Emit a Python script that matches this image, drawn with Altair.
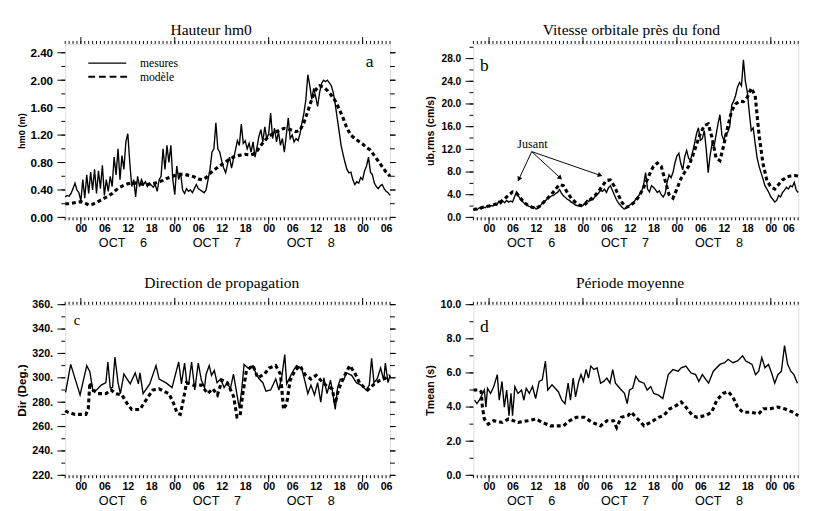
import math
import altair as alt
import pandas as pd

SANS = "Liberation Sans"
SERIF = "Liberation Serif"

# time axis: hours since 6 Oct 00:00
T_MIN, T_MAX = -4, 79
HALF = [k / 2 for k in range(2 * T_MIN, 2 * T_MAX + 1)]
HOURLY = list(range(T_MIN, T_MAX + 1))
LABEL_HOURS = list(range(0, T_MAX + 1, 6))
DAY_STARTS = [0, 24, 48, 72]

# ---------------- (a) Hauteur hm0 ----------------
hm0_mes = [
    0.30, 0.32, 0.31, 0.35, 0.42, 0.50, 0.40, 0.36,
    0.24, 0.55, 0.28, 0.62, 0.35, 0.66, 0.40, 0.70, 0.35, 0.68, 0.42, 0.76,
    0.32, 0.55, 0.38, 0.60, 0.45, 0.88, 0.62, 1.00, 0.55, 0.90, 0.70, 1.10,
    1.22, 0.80, 0.45, 0.55, 0.30, 0.60, 0.45, 0.55, 0.48, 0.52, 0.45, 0.50,
    0.47, 0.44, 0.48, 0.38, 0.55, 0.60, 1.00, 0.70, 1.05, 0.80, 1.05, 0.55,
    0.33, 0.75, 0.55, 0.65, 0.40, 0.35, 0.42, 0.38, 0.40, 0.36, 0.42, 0.48,
    0.42, 0.40, 0.38, 0.36, 0.40, 0.55, 0.70, 0.95, 1.00, 1.38, 1.00, 0.95,
    0.82, 0.72, 0.65, 0.78, 0.88, 0.72, 0.85, 0.98, 1.12, 1.05, 1.36, 1.08,
    1.12, 1.00, 1.08, 0.95, 1.10, 0.88, 1.02, 1.18, 1.28, 1.10, 1.32, 1.15,
    1.22, 1.52, 1.15, 1.30, 1.10, 1.25, 1.05, 1.15, 0.95, 1.20, 1.45, 1.15,
    1.20, 1.10, 1.15, 1.12, 1.22, 1.38, 1.52, 1.72, 2.08, 1.92, 1.72, 1.88,
    1.76, 1.62, 1.82, 1.95, 2.00, 1.98, 2.00, 1.96, 1.92, 1.82, 1.65, 1.45,
    1.25, 1.05, 0.92, 0.80, 0.70, 0.65, 0.66, 0.55, 0.48, 0.52, 0.50, 0.58,
    0.55, 0.68, 0.75, 0.88, 0.66, 0.62, 0.50, 0.45, 0.42, 0.46, 0.48, 0.42,
    0.38, 0.36, 0.32,
]
hm0_mod = [
    0.20, 0.20, 0.21, 0.22,
    0.23, 0.21, 0.18, 0.19, 0.22, 0.25,
    0.28, 0.31, 0.35, 0.40, 0.44, 0.47,
    0.49, 0.50, 0.50, 0.49, 0.48, 0.48,
    0.49, 0.50, 0.52, 0.54, 0.57, 0.59,
    0.61, 0.63, 0.63, 0.62, 0.61, 0.59,
    0.56, 0.55, 0.58, 0.64, 0.69, 0.73,
    0.77, 0.81, 0.85, 0.88, 0.90, 0.91,
    0.92, 0.91, 0.92, 0.97, 1.05, 1.12,
    1.18, 1.22, 1.25, 1.28, 1.30, 1.29,
    1.27, 1.25, 1.27, 1.38, 1.55, 1.72,
    1.86, 1.92, 1.90, 1.85, 1.78, 1.70,
    1.58, 1.45, 1.30, 1.20, 1.15, 1.11,
    1.07, 1.02, 0.98, 0.90, 0.82, 0.74,
    0.66, 0.60,
]

# ---------------- (b) Vitesse orbitale ----------------
ub_mes = [
    1.3, 1.6, 1.4, 1.7, 1.5, 1.8, 1.7, 2.0,
    1.9, 2.1, 2.0, 2.3, 2.2, 2.8, 2.4, 2.9, 2.6, 3.0, 2.7, 2.9,
    2.7, 3.6, 4.5, 3.8, 3.2, 2.8, 2.5, 2.3, 2.0, 1.9, 1.7, 1.8,
    1.5, 1.6, 2.0, 2.4, 2.8, 3.0, 3.4, 3.6, 3.8, 3.9, 4.2, 4.4,
    4.9, 4.3, 3.8, 3.5, 3.2, 3.0, 2.7, 2.5, 2.2, 2.1, 2.0, 1.9,
    2.1, 2.5, 3.0, 2.8, 3.3, 3.1, 3.6, 3.9, 4.3, 4.8, 4.6, 5.0,
    4.4, 5.2, 5.6, 4.8, 4.0, 3.2, 2.6, 2.2, 1.8, 1.5, 1.6, 1.9,
    2.2, 2.5, 2.7, 3.2, 3.6, 4.1, 4.6, 5.8, 7.9, 5.0, 4.5, 5.6,
    5.3, 4.9, 4.4, 4.7, 4.0, 3.6, 4.2, 6.2, 7.5, 7.0, 7.9, 9.6,
    10.8, 11.3, 9.5, 8.4, 10.7, 11.8, 10.4, 10.1, 11.5, 13.0, 14.7, 15.8,
    13.6, 13.9, 15.3, 12.0, 7.9, 11.0, 13.0, 12.5, 14.5, 16.5, 18.1, 14.5,
    13.6, 14.8, 15.0, 16.0, 19.8, 20.5, 21.5, 23.0, 23.8, 23.2, 27.8, 24.0,
    22.1, 18.5, 15.3, 15.8, 13.0, 10.5, 9.0, 7.9, 6.8, 5.6, 5.0, 4.4,
    3.6, 3.2, 2.7, 3.0, 3.9, 3.6, 4.4, 4.8, 5.3, 5.0, 5.6, 5.4,
    6.2, 4.8, 4.4,
]
ub_mod = [
    1.4, 1.5, 1.7, 1.9,
    2.0, 2.2, 2.4, 2.8, 3.3, 3.9,
    4.5, 4.3, 3.4, 2.6, 2.1, 1.8,
    1.6, 2.0, 2.7, 3.4, 4.1, 5.0,
    5.8, 5.6, 4.4, 3.4, 2.7, 2.2,
    2.0, 2.6, 3.2, 3.8, 4.6, 5.6,
    6.5, 6.6, 5.5, 4.0, 2.6, 1.8,
    2.0, 2.6, 3.4, 4.6, 6.0, 7.6,
    9.0, 9.6, 9.0, 6.5, 4.0, 3.4,
    5.0, 6.8, 8.0, 9.0, 10.8, 12.8,
    14.8, 16.2, 16.5, 14.0, 10.5, 10.0,
    12.8, 16.0, 18.8, 20.0, 20.5, 20.4,
    21.2, 22.8, 21.5, 14.5, 9.5, 6.5,
    5.4, 5.0, 5.8, 6.6, 7.1, 7.3,
    7.4, 7.3,
]

# ---------------- (c) Direction ----------------
dir_mes = [
    (-3.9, 288), (-2.6, 311), (-0.2, 286), (1.5, 310), (2.3, 305), (3.1, 289),
    (4.0, 290), (5.2, 294), (6.4, 296), (6.9, 313), (7.5, 292), (8.1, 292),
    (8.7, 317), (9.5, 296), (10.1, 287), (11.0, 303), (12.6, 295), (13.9, 304),
    (14.7, 295), (15.1, 304), (15.9, 287), (17.6, 295), (19.2, 310), (20.0, 299),
    (21.7, 296), (23.3, 292), (25.0, 313), (25.7, 295), (26.5, 312), (27.1, 295),
    (27.6, 296), (28.3, 313), (29.1, 290), (30.0, 312), (30.8, 298), (31.6, 292),
    (32.0, 303), (32.8, 310), (33.4, 302), (34.1, 306), (34.8, 296), (35.7, 299),
    (36.6, 292), (37.4, 296), (38.2, 291), (39.0, 303), (39.9, 286), (40.5, 275),
    (41.1, 290), (41.7, 311), (42.7, 308), (44.0, 310), (44.8, 303), (45.6, 299),
    (46.5, 296), (47.3, 289), (48.5, 290), (49.8, 299), (50.6, 290), (51.4, 302),
    (52.1, 319), (52.6, 295), (53.5, 301), (54.3, 306), (55.1, 310), (56.4, 308),
    (57.2, 298), (58.0, 287), (58.8, 294), (59.7, 286), (60.5, 296), (61.3, 280),
    (62.1, 300), (62.9, 287), (63.8, 298), (64.4, 287), (65.0, 274), (65.6, 292),
    (66.3, 299), (67.1, 298), (67.9, 304), (69.2, 302), (70.4, 296), (71.6, 294),
    (72.9, 290), (73.7, 294), (74.3, 316), (74.9, 296), (75.7, 299), (76.6, 308),
    (77.4, 298), (77.8, 312), (78.5, 296), (79.0, 302),
]
dir_mod = [
    (-4.0, 273), (-3.5, 272), (-2.5, 271), (-1.5, 270), (0.0, 270), (1.3, 270),
    (1.9, 275), (2.3, 296), (3.1, 290), (4.4, 287), (6.4, 287), (7.7, 290),
    (8.9, 287), (10.5, 286), (11.8, 279), (13.0, 274), (15.1, 274), (16.7, 282),
    (18.4, 290), (20.0, 291), (22.5, 287), (23.7, 279), (24.6, 271), (25.4, 270),
    (26.2, 282), (27.0, 296), (28.7, 294), (30.8, 294), (32.4, 287), (33.7, 291),
    (34.9, 286), (36.1, 298), (37.4, 296), (39.0, 285), (39.9, 268), (40.7, 269),
    (41.3, 285), (42.3, 306), (44.0, 310), (45.2, 300), (46.9, 303), (48.1, 308),
    (49.8, 310), (51.0, 303), (51.8, 274), (52.6, 279), (53.5, 298), (54.7, 306),
    (56.0, 310), (57.2, 303), (58.8, 299), (60.1, 302), (61.3, 298), (62.9, 293),
    (64.2, 291), (65.0, 279), (65.8, 290), (67.1, 300), (68.7, 310), (70.0, 304),
    (71.2, 296), (72.4, 292), (73.3, 290), (75.0, 295), (76.5, 298), (78.0, 300),
    (79.0, 302),
]

# ---------------- (d) Periode moyenne ----------------
tm_mes = [
    (-3.7, 4.4), (-3.1, 4.2), (-2.5, 4.4), (-1.2, 5.0), (-0.8, 4.0), (-0.4, 5.1),
    (0.4, 4.8), (1.2, 5.2), (2.1, 5.9), (2.6, 4.4), (3.3, 5.5), (3.9, 4.0),
    (4.5, 5.0), (5.1, 3.5), (5.6, 4.8), (6.0, 3.5), (6.6, 5.2), (7.4, 4.8),
    (8.3, 5.0), (8.9, 4.4), (9.5, 5.1), (10.3, 4.8), (11.1, 5.2), (11.9, 4.5),
    (12.8, 5.5), (13.6, 5.6), (14.4, 6.7), (15.0, 5.0), (16.1, 5.3), (16.9, 5.1),
    (17.7, 4.9), (18.6, 4.4), (19.4, 4.2), (20.2, 5.4), (20.8, 4.4), (21.5, 5.7),
    (22.1, 4.6), (22.9, 5.5), (23.5, 5.9), (24.1, 5.5), (24.8, 6.2), (25.4, 5.7),
    (26.0, 6.4), (26.8, 6.2), (27.6, 6.3), (28.5, 5.4), (29.3, 5.5), (30.1, 5.7),
    (30.9, 5.4), (31.6, 6.2), (32.3, 5.4), (33.4, 5.1), (34.6, 4.8), (35.3, 4.2),
    (35.9, 5.0), (36.7, 5.1), (37.5, 5.8), (38.4, 5.5), (39.6, 5.4), (40.4, 5.0),
    (41.3, 5.2), (42.1, 4.8), (43.3, 4.7), (44.4, 4.5), (45.0, 5.1), (45.8, 5.9),
    (46.2, 6.0), (47.0, 6.2), (48.3, 6.1), (49.1, 6.3), (50.3, 6.4), (51.6, 6.0),
    (52.8, 5.9), (53.6, 5.5), (54.5, 5.9), (56.1, 5.4), (57.3, 6.1), (59.0, 6.5),
    (60.2, 6.6), (61.1, 6.8), (62.3, 6.6), (63.5, 6.7), (64.8, 7.0), (65.6, 6.7),
    (66.4, 6.6), (67.2, 6.5), (68.1, 5.9), (68.9, 6.1), (69.7, 6.9), (70.5, 6.3),
    (71.4, 6.5), (72.2, 6.0), (73.0, 5.4), (73.8, 5.9), (74.7, 6.1), (75.5, 7.6),
    (76.3, 6.5), (77.1, 6.1), (77.9, 5.9), (78.8, 5.4),
]
tm_mod = [
    (-4.0, 5.0), (-2.5, 5.0), (-2.0, 4.9), (-1.7, 4.0), (-1.2, 3.3), (-0.2, 3.0),
    (1.2, 3.2), (3.3, 3.1), (5.0, 3.3), (7.4, 3.1), (9.9, 3.2), (12.0, 3.3),
    (13.6, 3.1), (15.7, 2.9), (19.0, 2.9), (20.6, 3.2), (22.3, 3.4), (24.3, 3.4),
    (26.4, 3.1), (28.5, 2.9), (30.1, 3.2), (31.8, 3.2), (32.6, 2.8), (33.8, 3.4),
    (35.5, 3.5), (36.3, 3.7), (38.0, 3.3), (39.6, 2.9), (41.3, 3.1), (43.3, 3.4),
    (44.6, 3.5), (46.2, 3.9), (47.9, 4.1), (49.1, 4.3), (50.3, 4.0), (52.0, 3.5),
    (53.2, 3.4), (55.3, 3.5), (56.9, 3.7), (58.2, 4.4), (59.8, 4.8), (61.1, 4.9),
    (62.3, 4.6), (63.5, 4.0), (64.8, 3.7), (66.8, 3.7), (68.9, 3.6), (70.1, 3.9),
    (71.8, 3.9), (73.8, 4.0), (75.5, 3.9), (77.6, 3.7), (79.0, 3.5),
]

# ---------------- annotations ----------------
day_t = [8, 16, 32, 40, 56, 64]
day_txt = ["OCT", "6", "OCT", "7", "OCT", "8"]

legend_txt = ["mesures", "modèle"]
legend_v = [2.25, 2.05]
legend_t0, legend_t1, legend_tt = 1.9, 11.6, 15.1

jusant_txt_pos = (11.1, 12.9)
jusant_from = (10.9, 11.6)
jusant_tips = [(7.4, 6.4), (18.6, 6.7), (28.9, 7.3)]

letters = {"a": (73.8, 2.26), "b": (-1.2, 26.7), "c": (-1.0, 347.3), "d": (-1.2, 8.7)}

# ---------------- helpers ----------------
W = 335
XS = alt.Scale(domain=[T_MIN, T_MAX], nice=False, zero=False)
XLAB = ("((((datum.value % 24) + 24) % 24) < 10 ? '0' : '') "
        "+ (((datum.value % 24) + 24) % 24)")


def df_grid(ts, vs):
    return pd.DataFrame({"t": ts, "v": vs})


def df_pairs(pairs):
    return pd.DataFrame({"t": [p[0] for p in pairs], "v": [p[1] for p in pairs]})


def xticks(ts, y0, y1):
    return alt.Chart(pd.DataFrame({"t": ts})).mark_rule(color="black", strokeWidth=1).encode(
        x=alt.X("t:Q", scale=XS, axis=None), y=alt.value(y0), y2=alt.value(y1))


def yticks(vs, ys, x0, x1):
    return alt.Chart(pd.DataFrame({"v": vs})).mark_rule(color="black", strokeWidth=1).encode(
        y=alt.Y("v:Q", scale=ys, axis=None), x=alt.value(x0), x2=alt.value(x1))


def panel(title, tdx, toff, mes_df, mod_df, ydom, ymajor, yminor, lab_expr,
          ytitle, ytitle_size, ylab_size, H, letter, letter_size, right_ticks,
          flush, extras=None):
    ys = alt.Scale(domain=ydom, nice=False, zero=False)
    left = alt.Axis(values=ymajor, labelExpr=lab_expr, labelOverlap=False, labelFlush=False,
                    ticks=False, tickSize=0, domain=False, grid=False,
                    labelFont=SANS, labelFontWeight="bold", labelFontSize=ylab_size,
                    labelColor="black", labelPadding=13,
                    titleX=-44.5, titleY=H / 2, titleAngle=270, titleAlign="center",
                    titleBaseline="middle", titleFont=SANS, titleFontWeight="bold",
                    titleFontSize=ytitle_size, titleColor="black")
    bottom = alt.Axis(values=LABEL_HOURS, labelExpr=XLAB, labelOverlap=False, labelFlush=flush,
                      labelBound=False, ticks=False, tickSize=0, domain=False, grid=False,
                      labelFont=SANS, labelFontWeight="bold", labelFontSize=11,
                      labelColor="black", labelPadding=6)

    mes = alt.Chart(mes_df).mark_line(color="black", strokeWidth=1.4).encode(
        x=alt.X("t:Q", scale=XS, axis=bottom, title=None),
        y=alt.Y("v:Q", scale=ys, axis=left, title=ytitle),
    )
    mod = alt.Chart(mod_df).mark_line(color="black", strokeWidth=3.2, strokeDash=[4, 3]).encode(
        x=alt.X("t:Q", scale=XS, axis=None),
        y=alt.Y("v:Q", scale=ys, axis=None),
    )
    days = alt.Chart(pd.DataFrame({"t": day_t, "lab": day_txt})).mark_text(
        font=SANS, fontSize=13, color="black", baseline="middle", align="center"
    ).encode(x=alt.X("t:Q", scale=XS, axis=None), y=alt.value(H + 27), text="lab:N")
    lt, lv = letters[letter]
    let = alt.Chart(pd.DataFrame({"t": [lt], "v": [lv], "lab": [letter]})).mark_text(
        font=SERIF, fontSize=letter_size, color="black", baseline="middle", align="center"
    ).encode(x=alt.X("t:Q", scale=XS, axis=None), y=alt.Y("v:Q", scale=ys, axis=None),
             text="lab:N")
    tick_layers = [
        xticks(HOURLY, H, H + 3), xticks(DAY_STARTS, H, H + 7),
        xticks(HOURLY, 0, -3), xticks(DAY_STARTS, 0, -7),
        yticks(yminor, ys, 0, -4), yticks(ymajor, ys, 0, -8),
    ]
    if right_ticks:
        tick_layers += [yticks(yminor, ys, W, W + 5), yticks(ymajor, ys, W, W + 6)]
    layers = [mes, mod, days, let] + tick_layers
    if extras is not None:
        layers += extras(ys, H)
    return alt.layer(*layers).resolve_axis(x="independent", y="independent").properties(
        width=W, height=H,
        title=alt.TitleParams(title, font=SERIF, fontSize=16, fontWeight="normal",
                              color="black", anchor="middle", frame="group", dx=tdx,
                              offset=toff, baseline="alphabetic"),
    )


def legend_layers(ys, H):
    solid = alt.Chart(pd.DataFrame({"t": [legend_t0, legend_t1], "v": [legend_v[0]] * 2})).mark_line(
        color="black", strokeWidth=1.4).encode(
        x=alt.X("t:Q", scale=XS, axis=None), y=alt.Y("v:Q", scale=ys, axis=None))
    dashed = alt.Chart(pd.DataFrame({"t": [legend_t0, legend_t1 + 0.3], "v": [legend_v[1]] * 2})).mark_line(
        color="black", strokeWidth=2, strokeDash=[7, 4]).encode(
        x=alt.X("t:Q", scale=XS, axis=None), y=alt.Y("v:Q", scale=ys, axis=None))
    txt = alt.Chart(pd.DataFrame({"t": [legend_tt] * 2, "v": legend_v, "lab": legend_txt})).mark_text(
        font=SERIF, fontSize=12, color="black", align="left", baseline="middle").encode(
        x=alt.X("t:Q", scale=XS, axis=None), y=alt.Y("v:Q", scale=ys, axis=None), text="lab:N")
    return [solid, dashed, txt]


def jusant_layers(ys, H):
    pxh = W / (T_MAX - T_MIN)
    pxv = H / (ys.domain[1] - ys.domain[0])
    rows, heads = [], []
    for tt, tv in jusant_tips:
        dx = (tt - jusant_from[0]) * pxh
        dy = -(tv - jusant_from[1]) * pxv
        ln = math.hypot(dx, dy)
        ang = math.degrees(math.atan2(dx, -dy)) % 360
        back = 3.0
        ht = tt - dx / ln * back / pxh
        hv = tv + dy / ln * back / pxv
        rows.append({"t0": jusant_from[0], "v0": jusant_from[1], "t1": ht, "v1": hv})
        heads.append({"t": ht, "v": hv, "ang": ang})
    rules = alt.Chart(pd.DataFrame(rows)).mark_rule(color="black", strokeWidth=1).encode(
        x=alt.X("t0:Q", scale=XS, axis=None), x2="t1:Q",
        y=alt.Y("v0:Q", scale=ys, axis=None), y2="v1:Q")
    hd = alt.Chart(pd.DataFrame(heads)).mark_point(
        shape="triangle", filled=True, color="black", size=30, opacity=1).encode(
        x=alt.X("t:Q", scale=XS, axis=None), y=alt.Y("v:Q", scale=ys, axis=None),
        angle=alt.Angle("ang:Q", scale=None))
    txt = alt.Chart(pd.DataFrame({"t": [jusant_txt_pos[0]], "v": [jusant_txt_pos[1]],
                                  "lab": ["Jusant"]})).mark_text(
        font=SERIF, fontSize=12.5, color="black", align="center", baseline="middle").encode(
        x=alt.X("t:Q", scale=XS, axis=None), y=alt.Y("v:Q", scale=ys, axis=None), text="lab:N")
    return [rules, hd, txt]


pa = panel("Hauteur hm0", -17, -14, df_grid(HALF, hm0_mes), df_grid(HOURLY, hm0_mod),
           [0, 2.53], [round(i * 0.4, 2) for i in range(7)], [round(i * 0.2, 2) for i in range(13)],
           "format(datum.value, '.2f')", "hm0 (m)", 9.5, 12, 179, "a", 18, True, False,
           legend_layers)
pb = panel("Vitesse orbitale près du fond", -4.5, -14, df_grid(HALF, ub_mes), df_grid(HOURLY, ub_mod),
           [0, 30.6], list(range(0, 29, 4)), list(range(0, 31, 2)),
           "format(datum.value, '.1f')", "ub,rms (cm/s)", 11, 10.5, 179, "b", 18, False, 5,
           jusant_layers)
pc = panel("Direction de propagation", -6, -6.5, df_pairs(dir_mes), df_pairs(dir_mod),
           [220, 360], list(range(220, 361, 20)), list(range(220, 361, 10)),
           "format(datum.value, 'd') + '.'", "Dir  (Deg.)", 12, 11, 176, "c", 15, True, False)
pd_ = panel("Période moyenne", -6, -6.5, df_pairs(tm_mes), df_pairs(tm_mod),
            [0, 10], list(range(0, 11, 2)), list(range(0, 11)),
            "format(datum.value, '.1f')", "Tmean (s)", 11, 11, 176, "d", 18, False, 5)

chart = alt.concat(pa, pb, pc, pd_, columns=2, spacing={"row": 90, "column": 86},
                   bounds="flush").properties(
    padding={"left": 8, "top": 6, "right": 0, "bottom": 0}
).configure_view(stroke="black", strokeWidth=1.5).configure(background="white")

chart.save("out.html", embed_options={"renderer": "svg", "actions": False})
